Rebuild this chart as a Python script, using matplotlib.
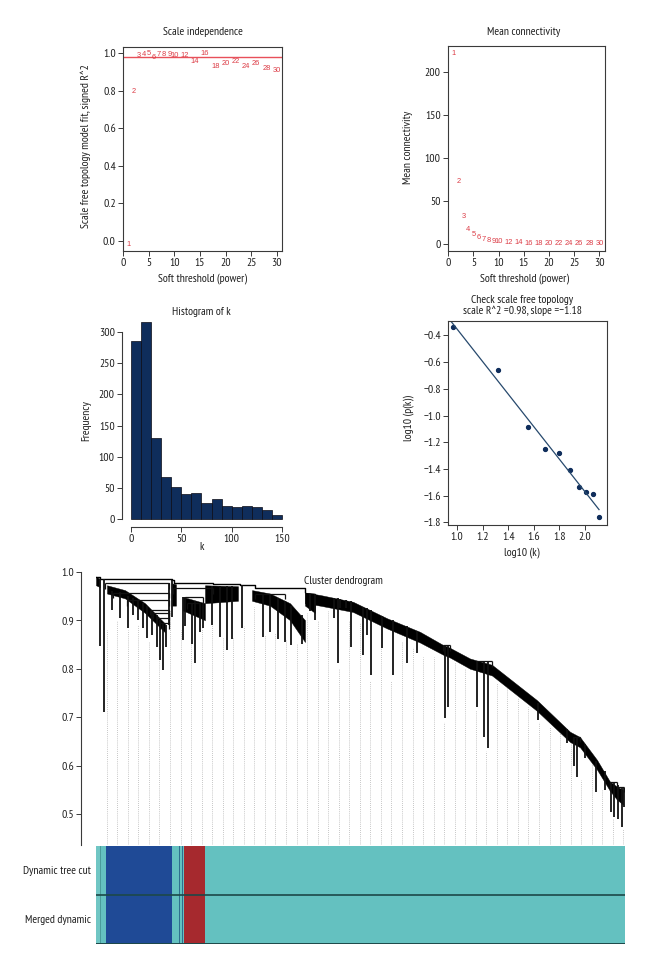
import numpy as np
import matplotlib
matplotlib.use("Agg")
import matplotlib.pyplot as plt

# ---------------- data ----------------
powers = [1, 2, 3, 4, 5, 6, 7, 8, 9, 10, 12, 14, 16, 18, 20, 22, 24, 26, 28, 30]
sft_r2 = [-0.02, 0.797, 0.988, 0.991, 0.998, 0.980, 0.995, 0.995, 0.995, 0.989,
          0.989, 0.956, 0.998, 0.927, 0.945, 0.954, 0.932, 0.948, 0.920, 0.909]
mean_k = [222.0, 72.0, 31.5, 16.7, 10.9, 7.0, 5.1, 3.8, 3.0, 2.3,
          1.4, 0.9, 0.6, 0.45, 0.35, 0.28, 0.23, 0.19, 0.16, 0.14]
r2_cut = 0.98

hist_edges = [0, 10, 20, 30, 40, 50, 60, 70, 80, 90, 100, 110, 120, 130, 140, 150]
hist_counts = [285, 315, 130, 68, 51, 40, 42, 26, 33, 21, 19, 21, 19, 15, 7]

log_k = [0.966, 1.323, 1.552, 1.685, 1.797, 1.885, 1.951, 2.010, 2.063, 2.109]
log_pk = [-0.335, -0.657, -1.087, -1.249, -1.284, -1.411, -1.534, -1.571, -1.589, -1.758]
sf_title = "Check scale free topology\nscale R^2 =0.98, slope =\u22121.18"

# dendrogram (x = leaf position, 0..529 ; y = height)
top_line_x = [0, 4, 76, 78, 117, 144, 159, 209]
top_line_h = [0.99, 0.984, 0.982, 0.976, 0.975, 0.972, 0.966, 0.958]

band_x = [209, 224, 257, 291, 324, 347, 354, 374, 396, 441, 474, 484, 501, 514, 521, 527]
band_top = [0.957, 0.952, 0.938, 0.904, 0.876, 0.849, 0.843, 0.821, 0.808, 0.735,
            0.67, 0.659, 0.612, 0.567, 0.557, 0.55]
band_bot = [0.935, 0.930, 0.917, 0.883, 0.854, 0.829, 0.823, 0.800, 0.786, 0.713,
            0.649, 0.638, 0.592, 0.548, 0.53, 0.52]

clA_x, clA_top, clA_bot = [0, 4], [0.99, 0.985], [0.972, 0.968]
clB_x, clB_top, clB_bot = [11, 29, 49, 69], [0.972, 0.962, 0.935, 0.893], [0.955, 0.945, 0.915, 0.875]
clC0_x, clC0_top, clC0_bot = [76, 80], [0.976, 0.974], [0.93, 0.93]
clC_x, clC_top, clC_bot = [87, 109], [0.948, 0.935], [0.92, 0.90]
clD_x, clD_top, clD_bot = [109, 142], [0.972, 0.97], [0.935, 0.94]
clE_x, clE_top, clE_bot = [156, 174, 194, 209], [0.962, 0.955, 0.935, 0.90], [0.94, 0.93, 0.90, 0.855]
clF_x, clF_top, clF_bot = [209, 219], [0.957, 0.955], [0.93, 0.915]

bracket_x1 = [9, 17, 31, 54, 57, 61, 64, 77, 89, 91, 159, 347, 381, 477, 514, 521]
bracket_x2 = [73, 73, 73, 73, 73, 73, 73, 117, 107, 104, 189, 354, 396, 484, 521, 528]
bracket_h = [0.977, 0.957, 0.942, 0.922, 0.914, 0.904, 0.894, 0.967, 0.948, 0.936, 0.955,
             0.849, 0.816, 0.66, 0.567, 0.557]

spike_x = [8, 4, 16, 24, 32, 37, 42, 47, 51, 56, 61, 64, 67, 70, 73, 76,
           87, 89, 96, 99, 104, 107, 116, 124, 131, 136, 146,
           167, 174, 182, 189, 195, 206, 214, 219,
           238, 242.3, 244, 250, 254.7, 267.3, 270.7, 274.7, 286.3, 296.7, 311.3, 321.3,
           349, 352, 380.7, 388, 392, 442.3, 470.7, 477.5, 481, 489, 500, 509,
           515, 518, 522, 525.7, 528]
spike_top = [0.985, 0.985, 0.96, 0.958, 0.95, 0.945, 0.94, 0.935, 0.93, 0.92, 0.91, 0.90, 0.895, 0.89, 0.977, 0.983,
             0.948, 0.948, 0.936, 0.94, 0.936, 0.936, 0.97, 0.97, 0.97, 0.97, 0.972,
             0.955, 0.955, 0.945, 0.94, 0.93, 0.91, 0.955, 0.955,
             0.945, 0.945, 0.943, 0.941, 0.94, 0.928, 0.925, 0.922, 0.908, 0.90, 0.888, 0.878,
             0.848, 0.846, 0.816, 0.816, 0.816, 0.73, 0.675, 0.66, 0.66, 0.645, 0.61, 0.59,
             0.567, 0.565, 0.56, 0.557, 0.555]
spike_bot = [0.711, 0.846, 0.921, 0.904, 0.883, 0.91, 0.90, 0.883, 0.863, 0.869, 0.845, 0.818, 0.797, 0.845, 0.89, 0.907,
             0.859, 0.887, 0.85, 0.811, 0.876, 0.883, 0.89, 0.866, 0.838, 0.862, 0.883,
             0.866, 0.876, 0.862, 0.856, 0.849, 0.85, 0.918, 0.90,
             0.904, 0.811, 0.925, 0.925, 0.845, 0.828, 0.87, 0.787, 0.842, 0.787, 0.812, 0.833,
             0.698, 0.72, 0.722, 0.66, 0.636, 0.694, 0.647, 0.60, 0.577, 0.615, 0.546, 0.55,
             0.505, 0.495, 0.49, 0.474, 0.515]

guide_top = [0.88, 0.90, 0.88, 0.89, 0.856, 0.83, 0.92, 0.88, 0.863, 0.884,
             0.89, 0.866, 0.866, 0.887, 0.928, 0.87, 0.873, 0.86, 0.85, 0.914,
             0.90, 0.918, 0.80, 0.90, 0.894, 0.775, 0.873, 0.775, 0.856, 0.845,
             0.825, 0.825, 0.69, 0.814, 0.80, 0.715, 0.63, 0.77, 0.76, 0.742,
             0.722, 0.69, 0.68, 0.667, 0.653, 0.57, 0.605, 0.55, 0.49, 0.47]

mod_start = [0, 4, 4.8, 10, 76, 83, 84, 85.6, 86.6, 88, 109.3]
mod_end = [4, 4.8, 10, 76, 83, 84, 85.6, 86.6, 88, 109.3, 529]
mod_color = ["#70c6c4", "#4a9c9c", "#64c1c0", "#1f4a96", "#64c1c0", "#2f6f8f",
             "#64c1c0", "#2f6f8f", "#64c1c0", "#a6292e", "#64c1c0"]
row_labels = ["Dynamic tree cut", "Merged dynamic"]

# ---------------- style ----------------
W, H = 648, 972
plt.rcParams['font.family'] = ['PT Sans Narrow', 'DejaVu Sans']
FS = 8.4
AXC = '#3a3a3a'
TXT = '#1e1e1e'
RED = '#dc3c46'
REDL = '#e8505a'
NAVY = '#0f2d5b'
NUMFONT = ['Liberation Sans', 'DejaVu Sans']

fig = plt.figure(figsize=(6.48, 9.72), dpi=100)


def px_axes(l, t, r, b):
    return fig.add_axes([l / W, 1 - b / H, (r - l) / W, (b - t) / H])


def ftext(x, y, s, **kw):
    kw.setdefault('fontsize', FS)
    kw.setdefault('color', TXT)
    kw.setdefault('ha', 'center')
    kw.setdefault('va', 'center')
    fig.text(x / W, 1 - y / H, s, **kw)


def style(ax):
    for s in ax.spines.values():
        s.set_color(AXC)
        s.set_linewidth(0.8)
    ax.tick_params(direction='out', length=3.5, width=0.7, colors=AXC,
                   labelcolor=TXT, labelsize=FS, pad=1.5)


def fmt1(v):
    return ('%.1f' % v).replace('-', '\u2212')


# ---- Panel 1: scale independence ----
ax1 = px_axes(122.7, 46.7, 282.3, 250.7)
style(ax1)
ax1.set_xlim(-0.1, 31.1)
ax1.set_ylim(-0.053, 1.035)
ax1.axhline(r2_cut, color=REDL, lw=1.0)
for p, v in zip(powers, sft_r2):
    ax1.text(p, v, str(p), color=RED, fontsize=5.4, family=NUMFONT, ha='center', va='center')
ax1.set_xticks(range(0, 31, 5))
yt = [0.0, 0.2, 0.4, 0.6, 0.8, 1.0]
ax1.set_yticks(yt)
ax1.set_yticklabels([fmt1(v) for v in yt])
ftext(202.5, 32, 'Scale independence')
ftext(202.5, 279, 'Soft threshold (power)')
ftext(86, 146, 'Scale free topology model fit, signed R^2', rotation=90)

# ---- Panel 2: mean connectivity ----
ax2 = px_axes(447.7, 46.0, 605.0, 250.7)
style(ax2)
ax2.set_xlim(-0.1, 31.1)
ax2.set_ylim(-8.2, 230.7)
for p, v in zip(powers, mean_k):
    ax2.text(p, v, str(p), color=RED, fontsize=5.4, family=NUMFONT, ha='center', va='center')
ax2.set_xticks(range(0, 31, 5))
ax2.set_yticks([0, 50, 100, 150, 200])
ftext(524, 32, 'Mean connectivity')
ftext(524, 279, 'Soft threshold (power)')
ftext(408, 147, 'Mean connectivity', rotation=90)

# ---- Panel 3: histogram ----
ax3 = px_axes(121.7, 314, 288, 527.3)
style(ax3)
ax3.set_xlim(-8.9, 155.6)
ax3.set_ylim(-12.8, 328.4)
widths = np.diff(hist_edges)
ax3.bar(hist_edges[:-1], hist_counts, width=widths, align='edge',
        color=NAVY, edgecolor='#0a0a14', linewidth=0.5)
ax3.spines['top'].set_visible(False)
ax3.spines['right'].set_visible(False)
ax3.spines['left'].set_bounds(0, 300)
ax3.spines['bottom'].set_bounds(0, 150)
ax3.set_xticks([0, 50, 100, 150])
ax3.set_yticks([0, 50, 100, 150, 200, 250, 300])
ftext(201.7, 311.7, 'Histogram of k')
ftext(201.7, 547, 'k')
ftext(86, 421, 'Frequency', rotation=90)

# ---- Panel 4: scale free topology ----
ax4 = px_axes(447.7, 320.7, 606.7, 525)
style(ax4)
ax4.set_xlim(0.927, 2.169)
ax4.set_ylim(-1.82, -0.29)
ax4.plot(log_k, log_pk, 'o', color=NAVY, markersize=2.8)
coef = np.polyfit(log_k, log_pk, 1)
fx = np.array([min(log_k) - 0.012, max(log_k)])
ax4.plot(fx, np.polyval(coef, fx), color='#27496d', lw=0.9)
xt = [1.0, 1.2, 1.4, 1.6, 1.8, 2.0]
ax4.set_xticks(xt)
ax4.set_xticklabels([fmt1(v) for v in xt])
yt4 = [-1.8, -1.6, -1.4, -1.2, -1.0, -0.8, -0.6, -0.4]
ax4.set_yticks(yt4)
ax4.set_yticklabels([fmt1(v) for v in yt4])
ftext(522, 305.5, sf_title, linespacing=1.05)
ftext(522, 553, 'log10 (k)')
ftext(409, 418, 'log10 (p(k))', rotation=90)

# ---- Dendrogram ----
axd = px_axes(96, 560, 625, 845)
axd.set_xlim(0, 529)
axd.set_ylim(0.4365, 1.0241)
for s in ['top', 'right', 'bottom']:
    axd.spines[s].set_visible(False)
axd.spines['left'].set_position(('outward', 10.8))
axd.spines['left'].set_bounds(0.4365, 1.0)
axd.spines['left'].set_color(AXC)
axd.spines['left'].set_linewidth(0.8)
axd.tick_params(axis='y', direction='out', length=3.5, width=0.7, colors=AXC,
                labelcolor=TXT, labelsize=FS, pad=1.5)
axd.set_xticks([])
ytd = [0.5, 0.6, 0.7, 0.8, 0.9, 1.0]
axd.set_yticks(ytd)
axd.set_yticklabels([fmt1(v) for v in ytd])

guide_x = np.linspace(10.7, 527.4, len(guide_top))
axd.vlines(guide_x, 0.4365, guide_top, colors='#b4b4b4', linestyles=(0, (1, 1.5)), lw=0.6, zorder=1)

axd.plot(top_line_x, top_line_h, color='black', lw=1.0, drawstyle='steps-post', zorder=3)
for cx, ct, cb in [(clA_x, clA_top, clA_bot), (clB_x, clB_top, clB_bot),
                   (clC0_x, clC0_top, clC0_bot), (clC_x, clC_top, clC_bot),
                   (clD_x, clD_top, clD_bot), (clE_x, clE_top, clE_bot),
                   (clF_x, clF_top, clF_bot), (band_x, band_top, band_bot)]:
    axd.fill_between(cx, ct, cb, facecolor='black', edgecolor='black', lw=0.3, zorder=3)
axd.vlines(spike_x, spike_bot, spike_top, colors='#111111', lw=1.3, zorder=3)
axd.hlines(bracket_h, bracket_x1, bracket_x2, colors='#111111', lw=0.9, zorder=3)
axd.vlines(bracket_x1, np.array(bracket_h) - 0.012, bracket_h, colors='#111111', lw=0.9, zorder=3)
axd.vlines(bracket_x2, np.array(bracket_h) - 0.012, bracket_h, colors='#111111', lw=0.9, zorder=3)
ftext(343.5, 581, 'Cluster dendrogram')

# ---- colour rows ----
axc = px_axes(96, 846, 625, 944)
axc.set_xlim(0, 529)
axc.set_ylim(0, 2)
axc.axis('off')
segs = [(s, e - s) for s, e in zip(mod_start, mod_end)]
for row in range(2):
    axc.broken_barh(segs, (row, 1), facecolors=mod_color, edgecolor='none')
axc.axhline(1, color='#1d4848', lw=1.2)
axc.axhline(0.004, color='#1d4848', lw=1.4)
ftext(91, 870.5, row_labels[0], ha='right')
ftext(91, 919.5, row_labels[1], ha='right')

fig.savefig('out.png', dpi=100)
